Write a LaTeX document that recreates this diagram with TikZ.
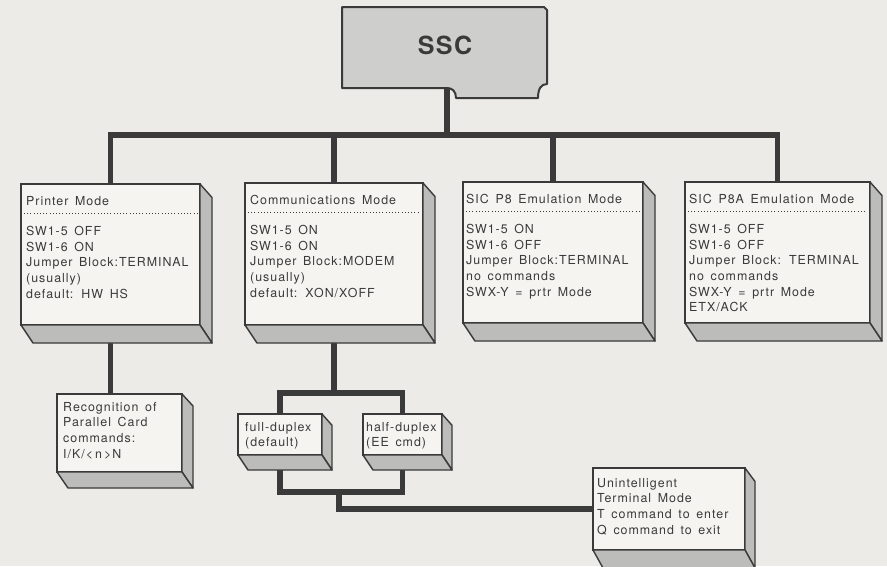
\documentclass[tikz,border=0pt]{standalone}
\usepackage{fontspec}
\usepackage{tikz}
\newfontfamily\modefont[LetterSpace=8,WordSpace=1.5]{TeX Gyre Heros}
\newfontfamily\headfont[LetterSpace=6]{TeX Gyre Heros}
\definecolor{paper}{RGB}{236,235,231}
\definecolor{facefront}{RGB}{245,244,241}
\definecolor{faceside}{RGB}{188,188,186}
\definecolor{sscgray}{RGB}{206,206,205}
\definecolor{ink}{RGB}{58,58,58}
\pgfdeclarelayer{paper}
\pgfdeclarelayer{wires}
\pgfsetlayers{paper,wires,main}
\newcommand\boxfont{\modefont\fontsize{12.4}{15.7}\selectfont}
% right and bottom faces of a box: node, dx, dy
\newcommand\slab[3]{%
  \path[side] (#1.north east) -- ++(#2,0.75*#3) -- ([shift={(#2,#3)}]#1.south east) -- (#1.south east) -- cycle;
  \path[side] (#1.south west) -- ++(#2,#3) -- ([shift={(#2,#3)}]#1.south east) -- (#1.south east) -- cycle;
}
\tikzset{
  front/.style={draw=ink, fill=facefront, line width=1.4pt, inner sep=0pt, outer sep=0pt, anchor=north west},
  side/.style={draw=ink, fill=faceside, line width=1.4pt, line join=round},
  card/.style={draw=ink, fill=sscgray, line width=2pt, line join=round},
  boxtext/.style={anchor=north west, inner sep=0pt, align=left, font=\boxfont, text=ink},
  boxtitle/.style={anchor=base west, inner sep=0pt, font=\boxfont, text=ink},
  dotline/.style={draw=ink, line width=0.8pt, dash pattern=on 0.8pt off 2.4pt},
  bus/.style={draw=ink, line width=5.5pt, line join=miter},
}

\begin{document}
\begin{tikzpicture}[x=1pt, y=-1pt]
  \useasboundingbox (0,0) rectangle (887,566);
  \begin{pgfonlayer}{paper}
    \fill[paper] (0,0) rectangle (887,566);
  \end{pgfonlayer}

  % head card
  \path[card] (342,7) -- (544,7) -- (547,10) -- (547,84)
    .. controls (541,84) and (538,89) .. (538,98)
    -- (456,98) .. controls (456,91) and (452,88) .. (447,88)
    -- (342,88) -- cycle;
  \node[font=\headfont\bfseries\fontsize{25}{30}\selectfont, text=ink] (ssc) at (445,45) {SSC};
  \coordinate (sscfoot) at (447,88);
  \coordinate (hub) at (447,135);

  % mode boxes
  \node[front, minimum width=179, minimum height=141] (pm) at (21,184) {};
  \node[front, minimum width=178, minimum height=142] (cm) at (245,183) {};
  \node[front, minimum width=180, minimum height=141] (p8) at (463,182) {};
  \node[front, minimum width=185, minimum height=141] (p8a) at (685,182) {};

  \foreach \b in {pm,cm,p8,p8a} {
    \slab{\b}{12}{18}
    \draw[dotline] ([shift={(3,29)}]\b.north west) -- ([shift={(-3,29)}]\b.north east);
  }

  \node[boxtitle] (pm-t) at ([shift={(5,21)}]pm.north west) {Printer Mode};
  \node[boxtext] (pm-b) at ([shift={(5,42)}]pm.north west)
    {SW1-5 OFF\\SW1-6 ON\\Jumper Block:TERMINAL\\(usually)\\default: HW HS};
  \node[boxtitle] (cm-t) at ([shift={(5,21)}]cm.north west) {Communications Mode};
  \node[boxtext] (cm-b) at ([shift={(5,42)}]cm.north west)
    {SW1-5 ON\\SW1-6 ON\\Jumper Block:MODEM\\(usually)\\default: XON/XOFF};
  \node[boxtitle] (p8-t) at ([shift={(3,21)}]p8.north west) {SIC P8 Emulation Mode};
  \node[boxtext] (p8-b) at ([shift={(3,42)}]p8.north west)
    {SW1-5 ON\\SW1-6 OFF\\Jumper Block:TERMINAL\\no commands\\SWX-Y = prtr Mode};
  \node[boxtitle] (p8a-t) at ([shift={(4,21)}]p8a.north west) {SIC P8A Emulation Mode};
  \node[boxtext] (p8a-b) at ([shift={(4,42)}]p8a.north west)
    {SW1-5 OFF\\SW1-6 OFF\\Jumper Block: TERMINAL\\no commands\\SWX-Y = prtr Mode\\ETX/ACK};

  % lower boxes
  \node[front, minimum width=125, minimum height=78] (rec) at (57,394) {};
  \node[front, minimum width=84, minimum height=41] (fd) at (238,414) {};
  \node[front, minimum width=79, minimum height=41] (hd) at (363,414) {};
  \node[front, minimum width=152, minimum height=82] (un) at (593,468) {};
  \slab{rec}{11}{16}
  \slab{fd}{10}{15}
  \slab{hd}{10}{15}
  \slab{un}{10}{18}

  \node[boxtext] (rec-b) at ([shift={(6,8)}]rec.north west)
    {Recognition of\\Parallel Card\\commands:\\I/K/<\,n\,>N};
  \node[boxtext] (fd-b) at ([shift={(7,8)}]fd.north west) {full-duplex\\(default)};
  \node[boxtext] (hd-b) at ([shift={(3,8)}]hd.north west) {half-duplex\\(EE cmd)};
  \node[boxtext] (un-b) at ([shift={(4,10)}]un.north west)
    {Unintelligent\\Terminal Mode\\T command to enter\\Q command to exit};

  % connectors
  \begin{pgfonlayer}{wires}
    \draw[bus] (sscfoot) -- (hub);
    \draw[bus] (pm.north) |- (hub) -| (p8a.north);
    \draw[bus] (cm.north) -- (cm.north |- hub);
    \draw[bus] (p8.north) -- (p8.north |- hub);
    \draw[bus] (pm.south) -- (pm.south |- rec.north);
    \coordinate (upjoin) at (cm.south |- 0,393);
    \coordinate (lowjoin) at (339,492);
    \draw[bus] (cm.south) -- (upjoin);
    \draw[bus] (fd.north) |- (upjoin) -| (hd.north);
    \draw[bus] (fd.south) |- (lowjoin) -| (hd.south);
    \draw[bus] (lowjoin) |- (un.west);
  \end{pgfonlayer}
\end{tikzpicture}
\end{document}
